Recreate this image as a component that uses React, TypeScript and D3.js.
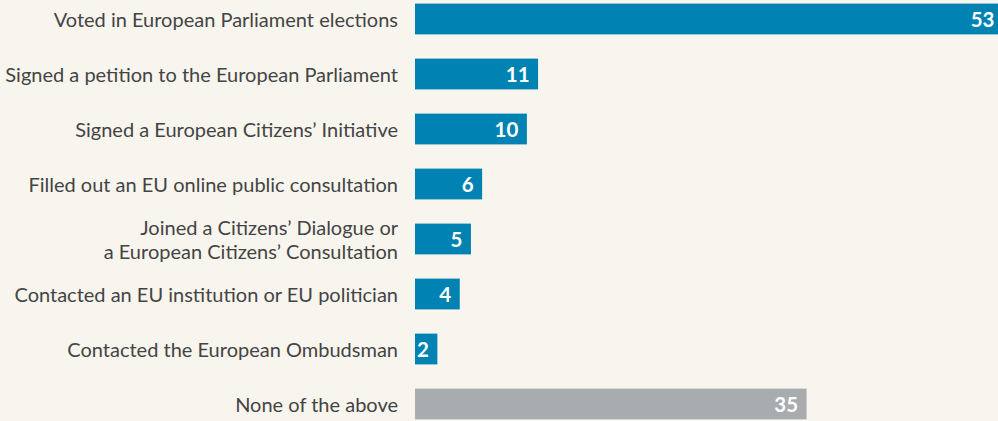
import React, { useEffect, useRef } from 'react'
import * as d3 from 'd3'

// survey answers, top to bottom
const categories = [
  ['Voted in European Parliament elections'],
  ['Signed a petition to the European Parliament'],
  ['Signed a European Citizens’ Initiative'],
  ['Filled out an EU online public consultation'],
  ['Joined a Citizens’ Dialogue or', 'a European Citizens’ Consultation'],
  ['Contacted an EU institution or EU politician'],
  ['Contacted the European Ombudsman'],
  ['None of the above'],
]
const values = [53, 11, 10, 6, 5, 4, 2, 35]
const isNone = [false, false, false, false, false, false, false, true]

const W = 998
const H = 421

export default function App() {
  const ref = useRef<SVGSVGElement>(null)

  useEffect(() => {
    const svg = d3.select(ref.current)
    svg.selectAll('*').remove()

    const x0 = 415
    const x = d3.scaleLinear().domain([0, 53]).range([x0, 1008])
    const y = d3
      .scaleBand()
      .domain(categories.map((c, i) => String(i)))
      .range([-8.5, 431.5])
      .paddingInner(0.44)
      .paddingOuter(0.22)

    svg.append('rect').attr('width', W).attr('height', H).attr('fill', '#f8f5ee')

    const rows = svg
      .selectAll('g.row')
      .data(values)
      .enter()
      .append('g')
      .attr('class', 'row')

    rows
      .append('rect')
      .attr('x', x0)
      .attr('y', (d, i) => y(String(i))!)
      .attr('width', (d) => x(d) - x0)
      .attr('height', y.bandwidth())
      .attr('fill', (d, i) => (isNone[i] ? '#a9acaf' : '#0083b3'))

    rows
      .append('text')
      .attr('x', (d) => Math.min(x(d), 1003) - 8.5)
      .attr('y', (d, i) => y(String(i))! + y.bandwidth() / 2)
      .attr('dy', '0.38em')
      .attr('text-anchor', 'end')
      .attr('fill', '#fff')
      .attr('font-weight', 'bold')
      .attr('font-size', 20.5)
      .text((d) => d)

    const labels = rows
      .append('text')
      .attr('text-anchor', 'end')
      .attr('fill', '#444')
      .attr('font-size', 20)
      .attr('y', (d, i) => y(String(i))! + y.bandwidth() / 2)

    labels
      .selectAll('tspan')
      .data((d, i) => categories[i].map((t, k, arr) => ({ t, k, n: arr.length })))
      .enter()
      .append('tspan')
      .attr('x', 398)
      .attr('dy', (l) => (l.k === 0 ? `${0.4 - (l.n - 1) * 0.6}em` : '1.2em'))
      .text((l) => l.t)
  }, [])

  return (
    <div style={{ position: 'fixed', left: 0, top: 0 }}>
      <svg
        ref={ref}
        width={W}
        height={H}
        style={{ display: 'block', fontFamily: 'Lato, sans-serif' }}
      />
    </div>
  )
}
